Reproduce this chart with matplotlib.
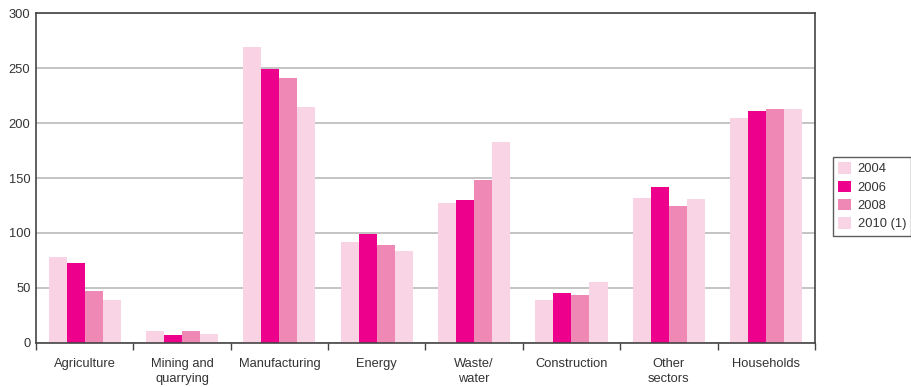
import numpy as np
import matplotlib
matplotlib.use("Agg")
import matplotlib.pyplot as plt

sectors = ["Agriculture", "Mining and\nquarrying", "Manufacturing", "Energy",
           "Waste/\nwater", "Construction", "Other\nsectors", "Households"]
years = ["2004", "2006", "2008", "2010 (1)"]
v2004 = [78, 11, 269, 92, 127, 39, 132, 205]
v2006 = [73, 7, 249, 99, 130, 45, 142, 211]
v2008 = [47, 11, 241, 89, 148, 44, 125, 213]
v2010 = [39, 8, 215, 84, 183, 55, 131, 213]
colors = ["#f9d3e4", "#ec008c", "#f088b6", "#f9d4e5"]

plt.rcParams["font.family"] = ["Liberation Sans", "DejaVu Sans"]
fig = plt.figure(figsize=(9.11, 3.87), dpi=100)
ax = fig.add_axes([0.0395, 0.1137, 0.855, 0.8527])

x = np.arange(len(sectors))
w = 0.185
for i, vals in enumerate([v2004, v2006, v2008, v2010]):
    ax.bar(x + (i - 1.5) * w, vals, width=w, color=colors[i], label=years[i],
           zorder=2, linewidth=0)

ax.set_xlim(-0.5, len(sectors) - 0.5)
ax.set_ylim(0, 300)
ax.set_yticks(range(0, 301, 50))
ax.yaxis.grid(True, color="#b4b4b4", linewidth=1.1, zorder=0)
ax.set_axisbelow(True)
ax.tick_params(axis="y", length=0, labelsize=9.3, colors="#333333", pad=4)

# categories labelled between boundary ticks
ax.set_xticks(np.arange(-0.5, len(sectors)), minor=False)
ax.set_xticklabels([])
ax.set_xticks(x, minor=True)
ax.set_xticklabels(sectors, minor=True, fontsize=9.3, color="#333333")
ax.tick_params(axis="x", which="major", length=5, width=1, color="#444444", direction="out")
ax.tick_params(axis="x", which="minor", length=0, pad=11)
for lab in ax.get_xticklabels(minor=True):
    lab.set_verticalalignment("top")
    lab.set_linespacing(1.3)

for s in ax.spines.values():
    s.set_color("#444444")
    s.set_linewidth(1.2)

leg = ax.legend(loc="upper left", bbox_to_anchor=(833 / 911, 1 - 157 / 387),
                bbox_transform=fig.transFigure, borderaxespad=0, fontsize=9.3,
                frameon=True, fancybox=False, edgecolor="#333333",
                handlelength=1.0, handleheight=1.0, handletextpad=0.5,
                labelspacing=0.4, borderpad=0.4)
leg.get_frame().set_linewidth(1.0)
for t in leg.get_texts():
    t.set_color("#333333")

fig.savefig("out.png", dpi=100)
